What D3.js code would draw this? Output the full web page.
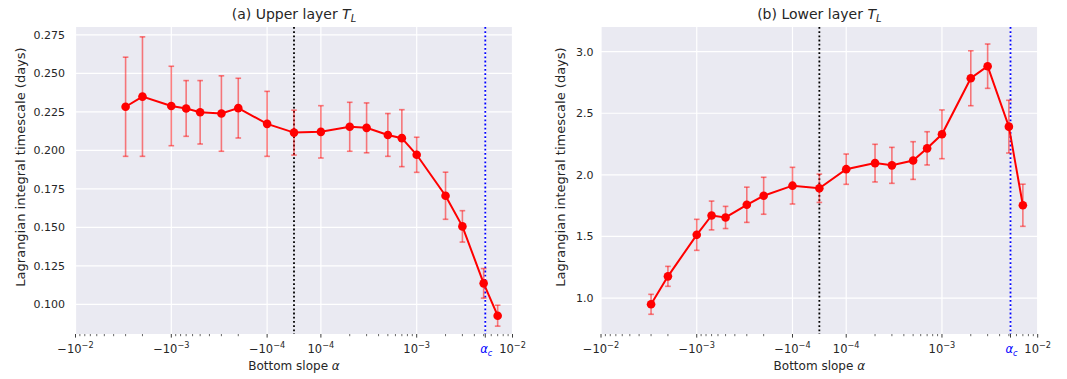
<!DOCTYPE html>
<html><head><meta charset="utf-8">
<script src="https://cdn.jsdelivr.net/npm/d3@7"></script>
<style>body{margin:0;background:#fff}svg{display:block}text{font-family:"DejaVu Sans",sans-serif;fill:#262626}</style>
</head><body>
<svg id="c" width="1067" height="379"></svg>
<script>
// ---- data ----
const alphas = [-3e-3,-2e-3,-1e-3,-7e-4,-5e-4,-3e-4,-2e-4,-1e-4,0,1e-4,2e-4,3e-4,5e-4,7e-4,1e-3,2e-3,3e-3,5e-3,7e-3];
const upperMean = [0.2283,0.2349,0.2288,0.2272,0.2247,0.2239,0.2274,0.2172,0.2115,0.2120,0.2153,0.2146,0.2100,0.2079,0.1971,0.1705,0.1506,0.1136,0.0926];
const upperErr  = [0.0322,0.0388,0.0258,0.0181,0.0206,0.0245,0.0194,0.0211,0.0146,0.0170,0.0159,0.0162,0.0139,0.0185,0.0114,0.0153,0.0102,0.0096,0.0068];
const lowerMean = [0.949,1.176,1.513,1.670,1.654,1.757,1.830,1.912,1.891,2.046,2.095,2.077,2.116,2.215,2.329,2.784,2.882,2.391,1.753];
const lowerErr  = [0.081,0.081,0.126,0.117,0.090,0.143,0.150,0.149,0.115,0.123,0.153,0.146,0.153,0.135,0.198,0.223,0.180,0.214,0.171];
const alphaC = 5.2e-3;
const alphaZero = 0;
const upperYTicks = [0.100,0.125,0.150,0.175,0.200,0.225,0.250,0.275];
const lowerYTicks = [1.0,1.5,2.0,2.5,3.0];
const xMajor = [-1e-2,-1e-3,-1e-4,1e-4,1e-3,1e-2];
const xMajorLabels = [["−10","−2"],["−10","−3"],["−10","−4"],["10","−4"],["10","−3"],["10","−2"]];
const titles = [["(a) Upper layer ","T","L"],["(b) Lower layer ","T","L"]];
const yLabel = "Lagrangian integral timescale (days)";
const xLabel = "Bottom slope ";

// ---- symlog transform (linthresh 1e-4) ----
const LT = 1e-4, LINADJ = 0.2806;
const T = v => Math.abs(v) <= LT ? v / LT * LINADJ : Math.sign(v) * (LINADJ + Math.log10(Math.abs(v) / LT));

const svg = d3.select("#c");
const yTop = 27, yBot = 334;

function panel(x0, x1, mean, err, yDomain, yTicks, fmt, title, ylabX, ytickX) {
  const xl = d3.scaleLinear().domain([T(-1e-2), T(1e-2)]).range([x0, x1]);
  const x = v => xl(T(v));
  const y = d3.scaleLinear().domain(yDomain).range([yBot, yTop]);
  const g = svg.append("g");
  g.append("rect").attr("x", x0).attr("y", yTop).attr("width", x1 - x0).attr("height", yBot - yTop).attr("fill", "#EAEAF2");
  // grid
  g.selectAll(".gy").data(yTicks).join("line").attr("x1", x0).attr("x2", x1)
    .attr("y1", d => y(d)).attr("y2", d => y(d)).attr("stroke", "#fff").attr("stroke-width", 1.2);
  g.selectAll(".gx").data(xMajor.concat([alphaC])).join("line").attr("y1", yTop).attr("y2", yBot)
    .attr("x1", d => x(d)).attr("x2", d => x(d)).attr("stroke", "#fff").attr("stroke-width", 1.2);
  // minor ticks
  const minor = [];
  for (const e of [1e-4, 1e-3]) for (let k = 2; k <= 9; k++) { minor.push(k * e); minor.push(-k * e); }
  g.selectAll(".mt").data(minor).join("line").attr("x1", d => x(d)).attr("x2", d => x(d))
    .attr("y1", yBot).attr("y2", yBot + 2.2).attr("stroke", "#262626").attr("stroke-width", 0.7);
  g.selectAll(".Mt").data(xMajor.concat([alphaC])).join("line").attr("x1", d => x(d)).attr("x2", d => x(d))
    .attr("y1", yBot).attr("y2", yBot + 3.6).attr("stroke", "#262626").attr("stroke-width", 0.9);
  // x tick labels
  xMajor.forEach((v, i) => {
    const t = g.append("text").attr("x", x(v)).attr("y", 353).attr("text-anchor", "middle").attr("font-size", 11.5);
    t.append("tspan").text(xMajorLabels[i][0]);
    t.append("tspan").attr("dy", -5).attr("font-size", 8.2).text(xMajorLabels[i][1]);
  });
  const ac = g.append("text").attr("x", x(alphaC) + 1).attr("y", 353).attr("text-anchor", "middle").attr("font-size", 11.5).style("fill", "#0000ff");
  ac.append("tspan").attr("font-style", "italic").style("fill", "#0000ff").text("α");
  ac.append("tspan").attr("dy", 2.5).attr("font-size", 8.2).attr("font-style", "italic").style("fill", "#0000ff").text("c");
  // y axis
  const ya = g.append("g").attr("transform", `translate(${ytickX},0)`)
    .call(d3.axisLeft(y).tickValues(yTicks).tickSize(0).tickPadding(0).tickFormat(fmt));
  ya.select(".domain").remove();
  ya.selectAll("text").attr("font-size", 11).attr("font-family", "DejaVu Sans").style("fill", "#262626");
  // reference lines
  g.append("line").attr("x1", x(alphaZero)).attr("x2", x(alphaZero)).attr("y1", yTop).attr("y2", yBot)
    .attr("stroke", "#000").attr("stroke-width", 1.8).attr("stroke-dasharray", "1.8,2.4");
  g.append("line").attr("x1", x(alphaC)).attr("x2", x(alphaC)).attr("y1", yTop).attr("y2", yBot)
    .attr("stroke", "#0000ff").attr("stroke-width", 1.8).attr("stroke-dasharray", "1.8,2.4");
  // error bars
  const eb = g.append("g").attr("stroke", "#ff0000").attr("stroke-opacity", 0.5).attr("stroke-width", 1.6);
  alphas.forEach((a, i) => {
    const cx = x(a), yt = y(mean[i] + err[i]), yb = y(mean[i] - err[i]);
    eb.append("line").attr("x1", cx).attr("x2", cx).attr("y1", yt).attr("y2", yb);
    eb.append("line").attr("x1", cx - 2.8).attr("x2", cx + 2.8).attr("y1", yt).attr("y2", yt);
    eb.append("line").attr("x1", cx - 2.8).attr("x2", cx + 2.8).attr("y1", yb).attr("y2", yb);
  });
  // line + markers
  g.append("path").datum(alphas.map((a, i) => [x(a), y(mean[i])])).attr("d", d3.line())
    .attr("fill", "none").attr("stroke", "#ff0000").attr("stroke-width", 2);
  g.selectAll(".pt").data(alphas).join("circle").attr("cx", d => x(d)).attr("cy", (d, i) => y(mean[i]))
    .attr("r", 4.3).attr("fill", "#ff0000");
  // title
  const tt = g.append("text").attr("x", (x0 + x1) / 2).attr("y", 19).attr("text-anchor", "middle").attr("font-size", 14);
  tt.append("tspan").text(title[0]);
  tt.append("tspan").attr("font-style", "italic").text(title[1]);
  tt.append("tspan").attr("font-style", "italic").attr("font-size", 10).attr("dy", 2.5).text(title[2]);
  // x label
  const xt = g.append("text").attr("x", (x0 + x1) / 2).attr("y", 370).attr("text-anchor", "middle").attr("font-size", 12);
  xt.append("tspan").text(xLabel);
  xt.append("tspan").attr("font-style", "italic").text("α");
  // y label
  g.append("text").attr("transform", `translate(${ylabX},167) rotate(-90)`)
    .attr("text-anchor", "middle").attr("font-size", 13).text(yLabel);
}

panel(75.5, 512.5, upperMean, upperErr, [0.0807, 0.2801], upperYTicks, d3.format(".3f"), titles[0], 25, 65);
panel(601, 1037.7, lowerMean, lowerErr, [0.708, 3.2], lowerYTicks, d3.format(".1f"), titles[1], 565, 593.5);
</script>
</body></html>
